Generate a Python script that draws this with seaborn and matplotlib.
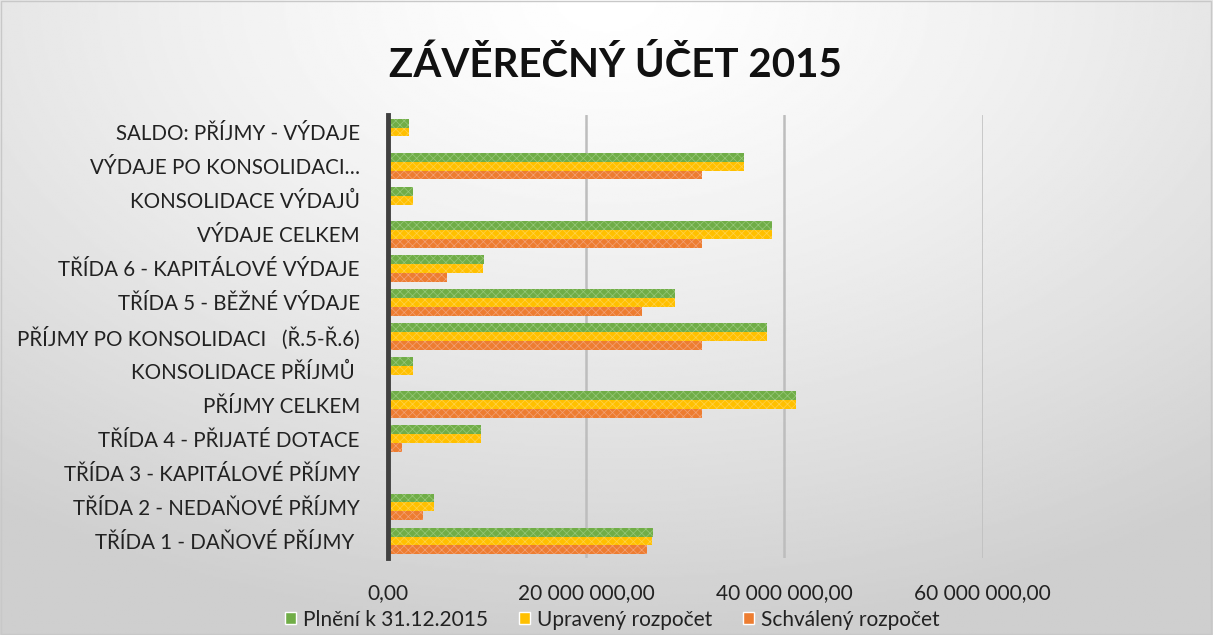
import numpy as np
import pandas as pd
import matplotlib
matplotlib.use("Agg")
import matplotlib.pyplot as plt
import seaborn as sns
from matplotlib.ticker import FuncFormatter

categories = [
    "SALDO: PŘÍJMY - VÝDAJE",
    "VÝDAJE PO KONSOLIDACI…",
    "KONSOLIDACE VÝDAJŮ",
    "VÝDAJE CELKEM",
    "TŘÍDA 6 - KAPITÁLOVÉ VÝDAJE",
    "TŘÍDA 5 - BĚŽNÉ VÝDAJE",
    "PŘÍJMY PO KONSOLIDACI   (Ř.5-Ř.6)",
    "KONSOLIDACE PŘÍJMŮ ",
    "PŘÍJMY CELKEM",
    "TŘÍDA 4 - PŘIJATÉ DOTACE",
    "TŘÍDA 3 - KAPITÁLOVÉ PŘÍJMY",
    "TŘÍDA 2 - NEDAŇOVÉ PŘÍJMY",
    "TŘÍDA 1 - DAŇOVÉ PŘÍJMY ",
]
series_names = ["Plnění k 31.12.2015", "Upravený rozpočet", "Schválený rozpočet"]
plneni = [2200000, 35900000, 2600000, 38800000, 9700000, 29000000, 38300000,
          2600000, 41200000, 9400000, 0, 4700000, 26800000]
upraveny = [2200000, 35900000, 2600000, 38800000, 9650000, 29000000, 38300000,
            2600000, 41200000, 9400000, 0, 4700000, 26700000]
schvaleny = [0, 31700000, 0, 31700000, 6000000, 25700000, 31700000,
             0, 31700000, 1500000, 0, 3550000, 26200000]
colors = ["#70AD47", "#FFC000", "#ED7D31"]
hatch_colors = ["#98C87A", "#FFD24A", "#F3A276"]

sns.set_theme(style="white")
plt.rcParams["font.family"] = ["Lato", "DejaVu Sans"]
plt.rcParams["hatch.linewidth"] = 0.5

rows = []
for s, vals in zip(series_names, [plneni, upraveny, schvaleny]):
    for c, v in zip(categories, vals):
        rows.append({"kategorie": c, "hodnota": v, "serie": s})
df = pd.DataFrame(rows)

fig = plt.figure(figsize=(12.13, 6.35), dpi=100)

# background radial gradient
bg = fig.add_axes([0, 0, 1, 1], zorder=-10)
yy, xx = np.mgrid[0:1:300j, 0:1:600j]
r = np.sqrt(((xx - 0.5) * 1.2) ** 2 + (yy - 0.0) ** 2)
val = 1.0 - 0.19 * np.clip(r / 1.0, 0, 1) ** 1.3
bg.imshow(val, cmap="gray", vmin=0, vmax=1, aspect="auto", extent=[0, 1, 1, 0])
bg.set_axis_off()
fig.patches.append(plt.Rectangle((0.001, 0.002), 0.997, 0.996, transform=fig.transFigure,
                                 fill=False, edgecolor="#c8c8c8", linewidth=1))

ax = fig.add_axes([0.3195, 0.1213, 0.4906, 0.6976])
ax.set_facecolor("none")
sns.barplot(data=df, y="kategorie", x="hodnota", hue="serie", order=categories,
            hue_order=series_names, palette=colors, orient="h", width=0.78,
            ax=ax, legend=True, saturation=1)

for cont, hc in zip(ax.containers, hatch_colors):
    for bar in cont:
        bar.set_hatch("xxxx")
        bar.set_edgecolor(hc)
        bar.set_linewidth(0)

ax.set_xlim(0, 60000000)
ax.set_xticks([0, 20000000, 40000000, 60000000])
ax.xaxis.set_major_formatter(FuncFormatter(lambda v, p: f"{int(v):,}".replace(",", " ") + ",00"))
ax.grid(axis="x", color="#bdbdbd", linewidth=1.8)
ax.set_axisbelow(True)
for s in ["top", "right", "bottom"]:
    ax.spines[s].set_visible(False)
ax.spines["left"].set_color("#404040")
ax.spines["left"].set_linewidth(3.5)
ax.spines["left"].set_zorder(5)
ax.tick_params(axis="x", length=0, pad=18, labelsize=15, colors="#222222")
ax.tick_params(axis="y", length=0, pad=20, labelsize=14.8, colors="#222222")
ax.set_xlabel("")
ax.set_ylabel("")

handles, labels = ax.get_legend_handles_labels()
ax.legend_.remove()
leg = fig.legend(handles, labels, loc="center", bbox_to_anchor=(0.505, 0.024), ncol=3,
                 frameon=False, fontsize=15, handlelength=0.5, handleheight=0.5,
                 handletextpad=0.35, columnspacing=1.5)
for t in leg.get_texts():
    t.set_color("#222222")

fig.text(0.507, 0.898, "ZÁVĚREČNÝ ÚČET 2015", ha="center", va="center",
         fontsize=29, fontweight="bold", color="#111111")

fig.savefig("out.png", dpi=100)
